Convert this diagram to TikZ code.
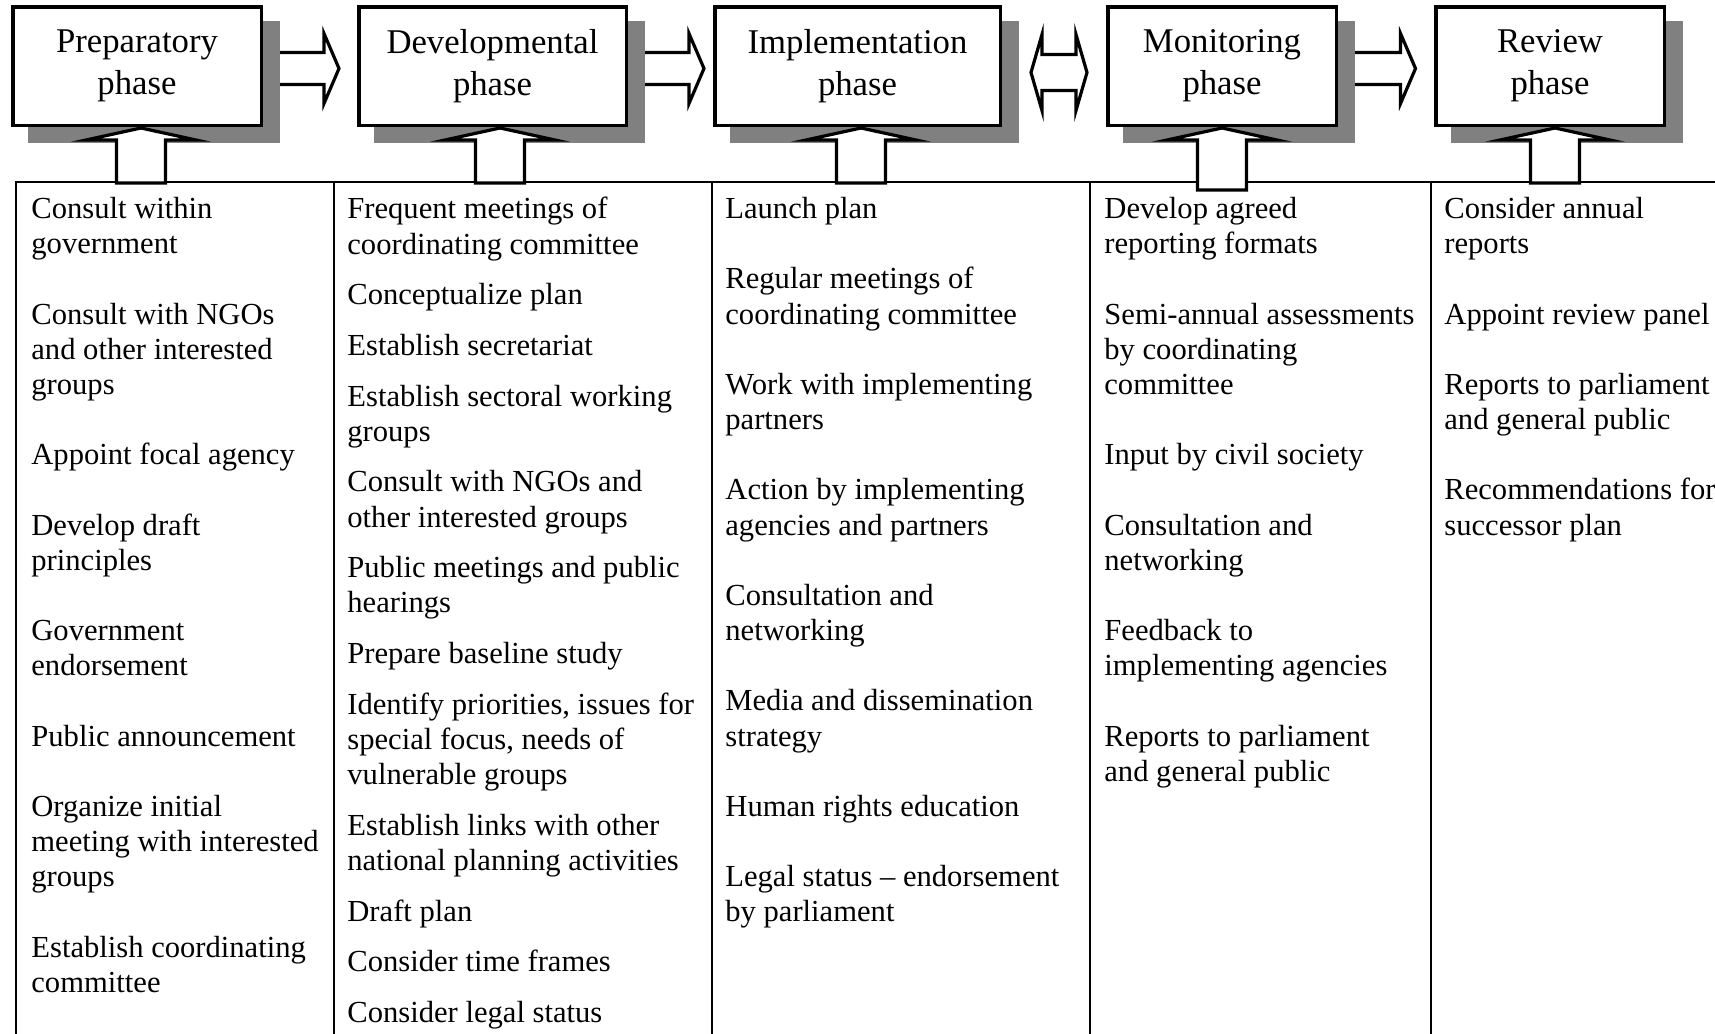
\documentclass[tikz,border=0pt]{standalone}
\usepackage{fontspec}
\setmainfont{Liberation Serif}
\usetikzlibrary{calc,backgrounds}
\definecolor{shadowgray}{HTML}{808080}
\begin{document}
\begin{tikzpicture}[x=0.5pt,y=-0.5pt,
  phase/.style={draw, line width=1.75pt, fill=white, minimum height=59.25pt, inner sep=0pt, align=center, font=\fontsize{17.35pt}{20.8pt}\selectfont},
  coltext/.style={anchor=north west, align=left, inner sep=0pt, font=\fontsize{15.3pt}{17.58pt}\selectfont},
  blockarrow/.style={draw, fill=white, line width=1.6pt, line join=miter},
  tableline/.style={line width=1.4pt}]
\useasboundingbox (0,0) rectangle (1715,1034);

% phase boxes
\node[phase, minimum width=124.25pt] (p1) at (137,66) {Preparatory\\phase};
\node[phase, minimum width=133.75pt] (p2) at (492.5,66) {Developmental\\phase};
\node[phase, minimum width=142.75pt] (p3) at (857.5,66) {Implementation\\phase};
\node[phase, minimum width=114.25pt] (p4) at (1222,66) {Monitoring\\phase};
\node[phase, minimum width=114.25pt] (p5) at (1550,66) {Review\\phase};

% shadows
\begin{scope}[on background layer]
\foreach \b in {p1,p2,p3,p4,p5}
  \fill[shadowgray] ([shift={(17,16)}]\b.south west) rectangle ([shift={(17,16)}]\b.north east);
\end{scope}

% right arrows
\foreach \a/\b/\g in {p1/p2/18, p2/p3/9, p4/p5/18.5} {
  \coordinate (s\a) at ($(\a.east)+(17,2.5)$);
  \coordinate (t\a) at ($(\b.west)+(-\g,2.5)$);
  \draw[blockarrow] ($(s\a)+(0,-16)$) -- ($(t\a)+(-15,-16)$) -- ($(t\a)+(-15,-35)$) -- (t\a)
     -- ($(t\a)+(-15,35)$) -- ($(t\a)+(-15,16)$) -- ($(s\a)+(0,16)$);
}

% double arrow
\coordinate (dL) at ($(p3.east)+(29,6.5)$);
\coordinate (dR) at ($(p4.west)+(-19,6.5)$);
\draw[blockarrow] (dL) -- ($(dL)+(11,-38)$) -- ($(dL)+(11,-18)$) -- ($(dR)+(-11,-18)$) -- ($(dR)+(-11,-38)$)
   -- (dR) -- ($(dR)+(-11,38)$) -- ($(dR)+(-11,18)$) -- ($(dL)+(11,18)$) -- ($(dL)+(11,38)$) -- cycle;

% table
\draw[tableline] (1715,182) -- (16,182) -- (16,1040);
\foreach \x in {334,712,1090,1431}
  \draw[tableline] (\x,182) -- (\x,1040);

% up arrows
\foreach \b/\dx/\len in {p1/4/55, p2/7.5/55, p3/3.5/55, p4/0/62, p5/5/55} {
  \coordinate (u\b) at ($(\b.south)+(\dx,1)$);
  \draw[blockarrow] ($(u\b)+(-24.5,\len)$) -- ($(u\b)+(-24.5,12)$) -- ($(u\b)+(-55,12)$) -- (u\b)
     -- ($(u\b)+(55,12)$) -- ($(u\b)+(24.5,12)$) -- ($(u\b)+(24.5,\len)$) -- cycle;
}

% column texts
\node[coltext] (c1) at (31,197) {Consult within\\government\\[17.58pt]
Consult with NGOs\\and other interested\\groups\\[17.58pt]
Appoint focal agency\\[17.58pt]
Develop draft\\principles\\[17.58pt]
Government\\endorsement\\[17.58pt]
Public announcement\\[17.58pt]
Organize initial\\meeting with interested\\groups\\[17.58pt]
Establish coordinating\\committee};

\node[coltext] (c2) at (347,197) {Frequent meetings of\\coordinating committee\\[7.75pt]
Conceptualize plan\\[7.75pt]
Establish secretariat\\[7.75pt]
Establish sectoral working\\groups\\[7.75pt]
Consult with NGOs and\\other interested groups\\[7.75pt]
Public meetings and public\\hearings\\[7.75pt]
Prepare baseline study\\[7.75pt]
Identify priorities, issues for\\special focus, needs of\\vulnerable groups\\[7.75pt]
Establish links with other\\national planning activities\\[7.75pt]
Draft plan\\[7.75pt]
Consider time frames\\[7.75pt]
Consider legal status};

\node[coltext] (c3) at (725,197) {Launch plan\\[17.58pt]
Regular meetings of\\coordinating committee\\[17.58pt]
Work with implementing\\partners\\[17.58pt]
Action by implementing\\agencies and partners\\[17.58pt]
Consultation and\\networking\\[17.58pt]
Media and dissemination\\strategy\\[17.58pt]
Human rights education\\[17.58pt]
Legal status -- endorsement\\by parliament};

\node[coltext] (c4) at (1104,197) {Develop agreed\\reporting formats\\[17.58pt]
Semi-annual assessments\\by coordinating\\committee\\[17.58pt]
Input by civil society\\[17.58pt]
Consultation and\\networking\\[17.58pt]
Feedback to\\implementing agencies\\[17.58pt]
Reports to parliament\\and general public};

\node[coltext] (c5) at (1444,197) {Consider annual\\reports\\[17.58pt]
Appoint review panel\\[17.58pt]
Reports to parliament\\and general public\\[17.58pt]
Recommendations for\\successor plan};
\end{tikzpicture}
\end{document}
